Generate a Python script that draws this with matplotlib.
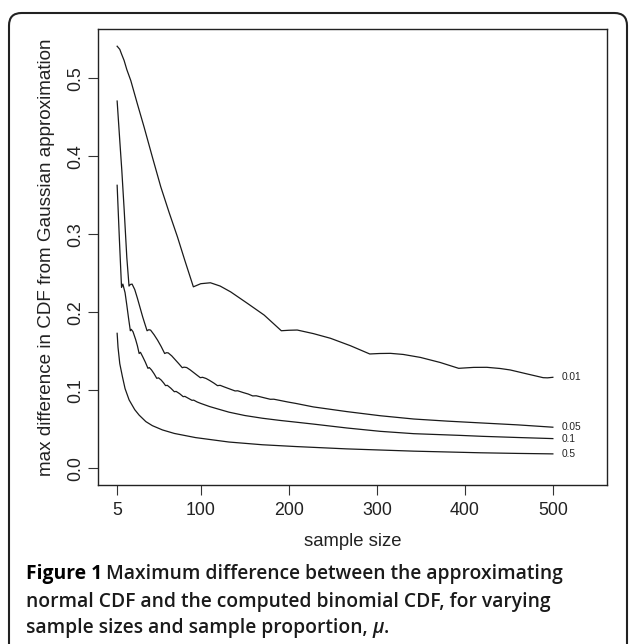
import matplotlib
matplotlib.use('Agg')
import matplotlib.pyplot as plt
from matplotlib.patches import FancyBboxPatch

# values
N_001 = [5, 8, 10, 12.9, 16, 20.5, 28, 35.6, 45, 54.6, 64, 73.5, 82, 91.6, 100, 111, 122, 134, 153, 172,
         191.5, 200, 209.6, 228, 247.4, 270, 292, 303, 315.5, 330, 349.5, 372, 393, 410, 425, 440,
         451.6, 470, 489, 494, 500]
D_001 = [0.541, 0.537, 0.531, 0.5228, 0.511, 0.497, 0.467, 0.4374, 0.399, 0.3606, 0.328, 0.2966, 0.266,
         0.2325, 0.2365, 0.2377, 0.2335, 0.226, 0.2113, 0.1963, 0.1762, 0.1768, 0.1771, 0.1725, 0.1665,
         0.157, 0.1464, 0.1470, 0.1472, 0.1458, 0.142, 0.1355, 0.128, 0.1292, 0.1293, 0.1278, 0.1259,
         0.121, 0.116, 0.1158, 0.1165]

N_005 = [5, 8, 10.3, 13, 16, 18.5, 20, 22, 25, 28, 31, 34, 36.5, 39, 41, 43, 47, 51, 55, 59, 61, 63,
         67, 71, 75, 79, 81, 84, 88, 92, 96, 99.5, 102, 106, 110, 115, 119, 122, 127, 133, 139, 142,
         148, 154, 159, 163, 170, 179, 183, 191, 199, 208, 228, 266, 304, 342, 380, 418, 460, 500]
D_005 = [0.4707, 0.42, 0.382, 0.331, 0.27, 0.2335, 0.2355, 0.236, 0.229, 0.218, 0.206, 0.194, 0.185,
         0.1762, 0.1775, 0.177, 0.171, 0.164, 0.156, 0.147, 0.148, 0.1478, 0.144, 0.139, 0.134, 0.1288,
         0.1295, 0.129, 0.126, 0.1225, 0.119, 0.116, 0.1165, 0.115, 0.1125, 0.109, 0.1058, 0.1062,
         0.104, 0.1015, 0.099, 0.0992, 0.097, 0.095, 0.0926, 0.0928, 0.0908, 0.0883, 0.0884, 0.0866,
         0.0848, 0.083, 0.0785, 0.0725, 0.0672, 0.063, 0.0603, 0.058, 0.0555, 0.0525]

N_01 = [5, 7.5, 10, 11.5, 14, 16, 18, 20, 21, 23, 26, 28, 30, 31.5, 34, 37, 40, 41.5, 44, 47, 50, 52,
        55, 58, 60, 62, 66, 70, 72, 76, 80, 82, 86, 90, 92, 96, 100, 110, 120, 132, 150, 170, 190, 208,
        228, 266, 304, 342, 395, 420, 460, 500]
D_01 = [0.3627, 0.295, 0.2317, 0.236, 0.225, 0.209, 0.192, 0.1762, 0.178, 0.175, 0.165, 0.157, 0.147,
        0.1485, 0.143, 0.136, 0.128, 0.129, 0.126, 0.121, 0.1152, 0.1158, 0.113, 0.109, 0.1058, 0.1062,
        0.1025, 0.098, 0.0984, 0.0955, 0.0917, 0.092, 0.0895, 0.087, 0.0872, 0.0848, 0.083, 0.079,
        0.0757, 0.0718, 0.0675, 0.064, 0.0612, 0.059, 0.0565, 0.0515, 0.0472, 0.0442, 0.042, 0.0408,
        0.0393, 0.0379]

N_05 = [5, 6, 8, 11, 14, 18.6, 25, 30, 37.6, 45, 56.5, 70, 94, 132, 170, 208, 266, 342, 418, 460, 500]
D_05 = [0.1729, 0.155, 0.134, 0.1173, 0.102, 0.0875, 0.075, 0.068, 0.0597, 0.0545, 0.049, 0.0445,
        0.0392, 0.0335, 0.030, 0.0277, 0.0247, 0.0218, 0.0197, 0.0189, 0.0183]

SERIES = [(N_001, D_001, '0.01'), (N_005, D_005, '0.05'), (N_01, D_01, '0.1'), (N_05, D_05, '0.5')]
X_TICKS = [5, 100, 200, 300, 400, 500]
Y_TICKS = [0.0, 0.1, 0.2, 0.3, 0.4, 0.5]
LABEL_X = 510


def draw_plot():
    fig = plt.figure(figsize=(6.29, 6.44), dpi=100)
    plt.rcParams['font.family'] = ['Liberation Sans', 'DejaVu Sans']

    # rounded frame around figure + caption
    frame = FancyBboxPatch((9 / 629, -0.1), 618 / 629, 1 - 13 / 644 + 0.1,
                           boxstyle='round,pad=0,rounding_size=0.02', transform=fig.transFigure,
                           fill=False, edgecolor='#222222', linewidth=1.5, mutation_aspect=629 / 644)
    fig.patches.append(frame)

    ax = fig.add_axes([98.3 / 629, 1 - 485 / 644, (606.9 - 98.3) / 629, (485 - 29.3) / 644])
    for n, d, lab in SERIES:
        ax.plot(n, d, color='#1a1a1a', linewidth=0.9)
        ax.text(LABEL_X, d[-1], lab, fontsize=7.3, va='center', ha='left', color='#222222')

    ax.set_xlim(-16.4, 561.4)
    ax.set_ylim(-0.0216, 0.5627)
    ax.set_xticks(X_TICKS)
    ax.set_xticklabels([str(t) for t in X_TICKS])
    ax.set_yticks(Y_TICKS)
    ax.set_yticklabels(['%.1f' % t for t in Y_TICKS], rotation=90, va='center')
    ax.tick_params(axis='both', labelsize=12.8, length=7, width=0.8, color='#333333', labelcolor='#222222')
    ax.tick_params(axis='x', pad=5)
    ax.tick_params(axis='y', pad=3)
    for s in ax.spines.values():
        s.set_linewidth(1.0)
        s.set_color('#222222')

    ax.set_xlabel('sample size', fontsize=13.3, color='#222222', labelpad=10)
    ax.set_ylabel('max difference in CDF from Gaussian approximation', fontsize=13.6, color='#222222',
                  labelpad=9)

    # caption
    cap = ['Figure 1 Maximum difference between the approximating',
           'normal CDF and the computed binomial CDF, for varying',
           'sample sizes and sample proportion, ']
    fam = ['Open Sans', 'DejaVu Sans']
    fs = 13.9
    x0 = 26 / 629
    ys = [574, 601.5, 628]
    t = fig.text(x0, 1 - ys[0] / 644, 'Figure 1', fontsize=fs, fontweight='bold', family=fam,
                 va='center', color='black')
    fig.canvas.draw()
    r = fig.canvas.get_renderer()
    bb = t.get_window_extent(r)
    fig.text(bb.x1 / 629 + 4 / 629, 1 - ys[0] / 644, cap[0][len('Figure 1 '):], fontsize=fs,
             fontweight='semibold', family=fam, va='center', color='#1a1a1a')
    fig.text(x0, 1 - ys[1] / 644, cap[1], fontsize=fs, fontweight='semibold', family=fam,
             va='center', color='#1a1a1a')
    t3 = fig.text(x0, 1 - ys[2] / 644, cap[2], fontsize=fs, fontweight='semibold', family=fam,
                  va='center', color='#1a1a1a')
    fig.canvas.draw()
    bb3 = t3.get_window_extent(r)
    t4 = fig.text(bb3.x1 / 629, 1 - ys[2] / 644, '\u03bc', fontsize=fs, fontweight='semibold',
                  style='italic', family=fam, va='center', color='#1a1a1a')
    fig.canvas.draw()
    bb4 = t4.get_window_extent(r)
    fig.text(bb4.x1 / 629, 1 - ys[2] / 644, '.', fontsize=fs, fontweight='semibold', family=fam,
             va='center', color='#1a1a1a')

    fig.savefig('out.png', dpi=100)


if __name__ == '__main__':
    draw_plot()
